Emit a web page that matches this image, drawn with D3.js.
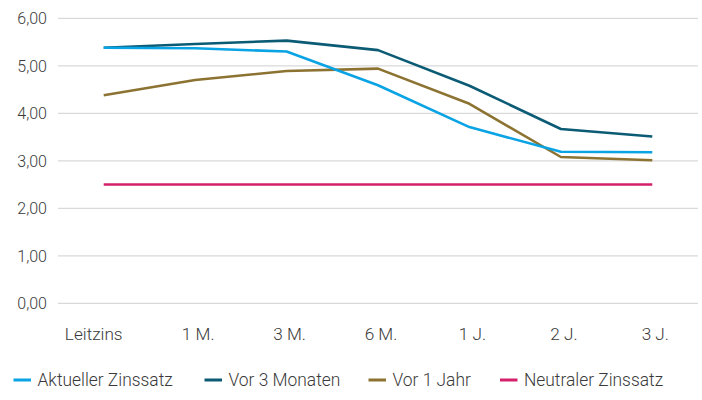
<!DOCTYPE html>
<html>
<head>
<meta charset="utf-8">
<script src="https://cdn.jsdelivr.net/npm/d3@7"></script>
<style>
  html, body { margin: 0; padding: 0; background: #fff; }
  svg text { font-family: Roboto, "Noto Sans", sans-serif; font-weight: 300; fill: #3a3a3a; }
</style>
</head>
<body>
<svg id="chart" width="702" height="400"></svg>
<script>
// Laufzeiten (x-Achse)
const categories = ["Leitzins", "1 M.", "3 M.", "6 M.", "1 J.", "2 J.", "3 J."];

// Zinssätze in Prozent
const aktuell      = [5.38, 5.37, 5.30, 4.59, 3.71, 3.19, 3.18];
const vor3Monaten  = [5.38, 5.46, 5.53, 5.33, 4.58, 3.67, 3.51];
const vor1Jahr     = [4.38, 4.70, 4.89, 4.94, 4.20, 3.08, 3.01];
const neutral      = [2.50, 2.50, 2.50, 2.50, 2.50, 2.50, 2.50];

const seriesNames  = ["Aktueller Zinssatz", "Vor 3 Monaten", "Vor 1 Jahr", "Neutraler Zinssatz"];
const seriesColors = ["#0aa3e3", "#0b5b75", "#8c7332", "#d4206a"];
const yTicks       = [0, 1, 2, 3, 4, 5, 6];

const seriesValues = [aktuell, vor3Monaten, vor1Jahr, neutral];

const svg = d3.select("#chart");
const plotLeft = 58, plotRight = 698, plotTop = 18.3, plotBottom = 303.3;

const x = d3.scaleBand().domain(categories).range([plotLeft, plotRight]);
const y = d3.scaleLinear().domain([0, 6]).range([plotBottom, plotTop]);
const fmt = v => d3.format(".2f")(v).replace(".", ",");

// Horizontale Gitterlinien
svg.append("g")
  .selectAll("line")
  .data(yTicks)
  .join("line")
  .attr("x1", plotLeft).attr("x2", plotRight)
  .attr("y1", d => y(d)).attr("y2", d => y(d))
  .attr("stroke", "#d9d9d9")
  .attr("stroke-width", 1.2);

// y-Achse
const yAxis = svg.append("g")
  .attr("transform", `translate(${plotLeft},0)`)
  .call(d3.axisLeft(y).tickValues(yTicks).tickFormat(fmt).tickSize(0).tickPadding(11));
yAxis.select(".domain").remove();
yAxis.selectAll("text").style("font-size", "16px").attr("dy", "0.35em");

// x-Achse
const xAxis = svg.append("g")
  .attr("transform", `translate(0,${plotBottom})`)
  .call(d3.axisBottom(x).tickSize(0).tickPadding(24));
xAxis.select(".domain").remove();
xAxis.selectAll("text").style("font-size", "17.2px").attr("dx", 3);
xAxis.selectAll(".tick text").filter((d, i) => i === 0).attr("dx", -10);

// Linien
const line = d3.line()
  .x((d, i) => x(categories[i]) + x.bandwidth() / 2)
  .y(d => y(d));

svg.append("g")
  .selectAll("path")
  .data(seriesValues.map((v, i) => ({ v, i })).reverse())
  .join("path")
  .attr("d", d => line(d.v))
  .attr("fill", "none")
  .attr("stroke", d => seriesColors[d.i])
  .attr("stroke-width", 2.6)
  .attr("stroke-linejoin", "round");

// Legende
const legendX = [13.5, 204.5, 368.5, 500];
const legend = svg.append("g")
  .selectAll("g")
  .data(seriesNames)
  .join("g")
  .attr("transform", (d, i) => `translate(${legendX[i]},380)`);
legend.append("line")
  .attr("x1", 0).attr("x2", 17.5)
  .attr("y1", 0).attr("y2", 0)
  .attr("stroke", (d, i) => seriesColors[i])
  .attr("stroke-width", 3);
legend.append("text")
  .attr("transform", "translate(24,0) scale(0.94,1)")
  .attr("dy", "0.31em")
  .style("font-size", "18.5px")
  .text(d => d);
</script>
</body>
</html>
